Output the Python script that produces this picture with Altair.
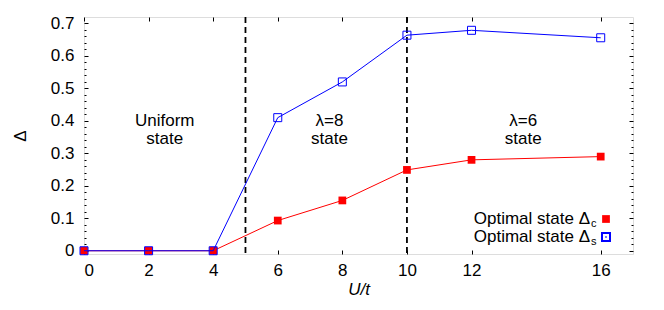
import altair as alt
import pandas as pd

# ---- data ----
u_vals = [0, 2, 4, 6, 8, 10, 12, 16]
delta_c = [0.0, 0.0, 0.0, 0.093, 0.155, 0.249, 0.280, 0.290]
delta_s = [0.0, 0.0, 0.0, 0.410, 0.520, 0.664, 0.679, 0.656]

x_ticks = [0, 2, 4, 6, 8, 10, 12, 16]
y_ticks = [0, 0.1, 0.2, 0.3, 0.4, 0.5, 0.6, 0.7]
y_minor = [0.02, 0.04, 0.06, 0.08, 0.12, 0.14, 0.16, 0.18, 0.22, 0.24, 0.26, 0.28,
           0.32, 0.34, 0.36, 0.38, 0.42, 0.44, 0.46, 0.48, 0.52, 0.54, 0.56, 0.58,
           0.62, 0.64, 0.66, 0.68]

boundaries = [5, 10]

ann_x = [2.5, 2.5, 7.6, 7.6, 13.6, 13.6]
ann_y = [0.384, 0.328, 0.384, 0.328, 0.384, 0.328]
ann_text = ["Uniform", "state", "λ=8", "state", "λ=6", "state"]

legend_labels = ["Optimal state Δ", "Optimal state Δ"]
legend_subs = ["c", "s"]

RED = "#ff0000"
BLUE = "#0000ff"
FONT = "Liberation Sans"
W, H = 549, 237

df_c = pd.DataFrame({"U": u_vals, "D": delta_c})
df_s = pd.DataFrame({"U": u_vals, "D": delta_s})
df_b = pd.DataFrame({"U": boundaries})
df_a = pd.DataFrame({"U": ann_x, "D": ann_y, "t": ann_text})

xs = alt.Scale(domain=[0, 17], nice=False, zero=False)
ys = alt.Scale(domain=[-0.01, 0.72], nice=False, zero=False)

common_axis = dict(grid=False, domain=False, tickColor="black", labelColor="black",
                   titleColor="black", labelFont=FONT, titleFont=FONT,
                   labelFontSize=17, titleFontSize=17, tickWidth=1)

x_bottom = alt.Axis(orient="bottom", values=x_ticks, offset=-4, tickSize=4,
                    labelPadding=8, title="U/t", titleFontStyle="italic",
                    titleFontWeight="normal", titleBaseline="alphabetic", titleY=44,
                    labelAngle=0, **common_axis)
x_top = alt.Axis(orient="top", values=x_ticks, offset=-4, tickSize=4,
                 labels=False, title=None, **common_axis)
y_left = alt.Axis(orient="left", values=y_ticks, offset=-4, tickSize=4,
                  labelPadding=10, title="Δ", titleFontWeight="normal",
                  titleX=-68, titleBaseline="middle",
                  labelExpr="datum.value == 0 ? '0' : format(datum.value, '.1f')",
                  **common_axis)
y_right = alt.Axis(orient="right", values=y_ticks, offset=-4, tickSize=4,
                   labels=False, title=None, **common_axis)
y_left_minor = alt.Axis(orient="left", values=y_minor, offset=-2, tickSize=2,
                        labels=False, title=None, **common_axis)
y_right_minor = alt.Axis(orient="right", values=y_minor, offset=-2, tickSize=2,
                         labels=False, title=None, **common_axis)

red_line = alt.Chart(df_c).mark_line(color=RED, strokeWidth=1).encode(
    x=alt.X("U:Q", scale=xs, axis=x_bottom),
    y=alt.Y("D:Q", scale=ys, axis=y_left),
)
red_pts = alt.Chart(df_c).mark_point(shape="square", filled=True, color=RED,
                                     size=60, opacity=1).encode(
    x=alt.X("U:Q", scale=xs, axis=x_top),
    y=alt.Y("D:Q", scale=ys, axis=y_right),
)
blue_line = alt.Chart(df_s).mark_line(color=BLUE, strokeWidth=1).encode(
    x=alt.X("U:Q", scale=xs, axis=None),
    y=alt.Y("D:Q", scale=ys, axis=y_left_minor),
)
blue_pts = alt.Chart(df_s).mark_point(shape="square", filled=False, color=BLUE,
                                      size=64, strokeWidth=1, opacity=1).encode(
    x=alt.X("U:Q", scale=xs, axis=None),
    y=alt.Y("D:Q", scale=ys, axis=y_right_minor),
)
rules = alt.Chart(df_b).mark_rule(color="black", strokeWidth=1.8,
                                  strokeDash=[6, 4]).encode(
    x=alt.X("U:Q", scale=xs, axis=None),
)
annots = alt.Chart(df_a).mark_text(font=FONT, fontSize=17, color="black",
                                   baseline="alphabetic", align="center").encode(
    x=alt.X("U:Q", scale=xs, axis=None),
    y=alt.Y("D:Q", scale=ys, axis=None),
    text="t:N",
)

# ---- manual key (text left of symbol, as in the reference) ----
key_rows = [0, 1]
df_k = pd.DataFrame({"row": key_rows, "lab": legend_labels, "sub": legend_subs})
key_y = [202, 220]
key_texts = []
key_marks = []
for r in key_rows:
    sub_df = df_k[df_k.row == r]
    key_texts.append(alt.Chart(sub_df).mark_text(
        font=FONT, fontSize=17, color="black", align="right", baseline="middle"
    ).encode(x=alt.value(506), y=alt.value(key_y[r]), text="lab:N"))
    key_texts.append(alt.Chart(sub_df).mark_text(
        font=FONT, fontSize=11, color="black", align="left", baseline="middle"
    ).encode(x=alt.value(507), y=alt.value(key_y[r] + 5), text="sub:N"))
key_marks.append(alt.Chart(df_k[df_k.row == 0]).mark_point(
    shape="square", filled=True, color=RED, size=60, opacity=1
).encode(x=alt.value(522), y=alt.value(key_y[0])))
key_marks.append(alt.Chart(df_k[df_k.row == 1]).mark_point(
    shape="square", filled=False, color=BLUE, size=64, opacity=1
).encode(x=alt.value(522), y=alt.value(key_y[1])))
key_marks.append(alt.Chart(df_k[df_k.row == 1]).mark_point(
    shape="square", filled=True, color=BLUE, size=2, opacity=1
).encode(x=alt.value(522), y=alt.value(key_y[1])))

chart = alt.layer(
    rules, red_line, red_pts, blue_line, blue_pts, annots, *key_texts, *key_marks
).resolve_axis(x="independent", y="independent").properties(
    width=W, height=H,
    autosize=alt.AutoSizeParams(type="none"),
    padding={"left": 76, "top": 9, "right": 23, "bottom": 48},
).configure_view(stroke="black", strokeWidth=1.2).configure(background="white")

chart.save("out.html", embed_options={"renderer": "svg", "actions": False})
